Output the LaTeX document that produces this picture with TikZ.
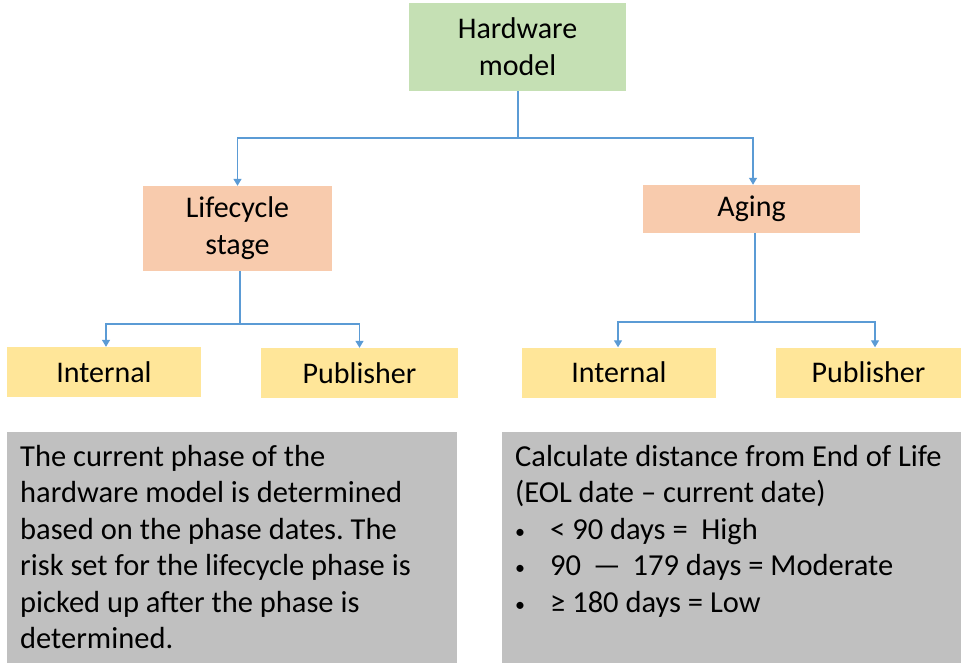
\documentclass[tikz,border=0pt]{standalone}
\usepackage{fontspec}
\setmainfont{Carlito}
\usetikzlibrary{arrows.meta}
\definecolor{modelgreen}{HTML}{C5E0B4}
\definecolor{stagesalmon}{HTML}{F8CBAD}
\definecolor{sourceyellow}{HTML}{FFE699}
\definecolor{notegray}{HTML}{C0C0C0}
\definecolor{linkblue}{HTML}{5B9BD5}
\newcommand{\notebullet}{\makebox[35pt][l]{\raisebox{1pt}{\fontsize{20}{20}\selectfont\textbullet}}}
\frenchspacing
\begin{document}
\begin{tikzpicture}[x=1pt, y=-1pt,
    box/.style={rectangle, inner sep=0pt, align=center, font=\fontsize{30}{37}\selectfont},
    modelbox/.style={box, fill=modelgreen},
    stagebox/.style={box, fill=stagesalmon},
    sourcebox/.style={box, fill=sourceyellow, minimum height=50pt},
    notebox/.style={rectangle, inner sep=0pt, fill=notegray, anchor=north west, minimum height=231pt},
    notetext/.style={inner sep=0pt, anchor=north west, align=left, font=\fontsize{30.5}{36.5}\selectfont},
    link/.style={draw=linkblue, line width=1.3pt, -{Triangle[width=8pt, length=7pt]}}]
    \useasboundingbox (0,0) rectangle (961,663);

    % Top
    \node [modelbox, minimum width=217pt, minimum height=88pt] (model) at (517.5,47) {Hardware\\model};

    % Stages
    \node [stagebox, minimum width=189pt, minimum height=85pt] (lifecycle) at (237.5,228.5) {Lifecycle\\stage};
    \node [stagebox, minimum width=217pt, minimum height=48pt] (aging) at (751.5,209) {Aging};

    % Sources
    \node [sourcebox, minimum width=194pt] (lcinternal) at (104,372) {Internal};
    \node [sourcebox, minimum width=197pt] (lcpublisher) at (359.5,373) {Publisher};
    \node [sourcebox, minimum width=194pt] (aginternal) at (619,372.5) {Internal};
    \node [sourcebox, minimum width=185pt] (agpublisher) at (868.5,372.5) {Publisher};

    % Connectors
    \coordinate (modelfork) at (518,138);
    \coordinate (lcfork) at (240,324);
    \coordinate (agfork) at (755,322);
    \draw [link] (model.south -| modelfork) -- (modelfork) -| (lifecycle.north);
    \draw [link] (modelfork) -| ([xshift=1.5pt]aging.north);
    \draw [link] (lifecycle.south -| lcfork) -- (lcfork) -| ([xshift=2pt]lcinternal.north);
    \draw [link] (lcfork) -| (lcpublisher.north);
    \draw [link] (aging.south -| agfork) -- (agfork) -| ([xshift=-1pt]aginternal.north);
    \draw [link] (agfork) -| ([xshift=6.5pt]agpublisher.north);

    % Notes
    \node [notebox, minimum width=450pt] (phasenote) at (7,432) {};
    \node [notetext] (phasetext) at ([xshift=13pt, yshift=-13pt]phasenote.north west)
        {The current phase of the\\hardware model is determined\\based on the phase dates. The\\risk set for the lifecycle phase is\\picked up after the phase is\\determined.};
    \node [notebox, minimum width=459pt] (agenote) at (502,432) {};
    \node [notetext] (agetext) at ([xshift=13pt, yshift=-13pt]agenote.north west)
        {Calculate distance from End of Life\\(EOL date – current date)\\
         \notebullet< 90 days =\ \ High\\
         \notebullet 90 \,—\, 179 days = Moderate\\
         \notebullet≥ 180 days = Low};
\end{tikzpicture}
\end{document}
